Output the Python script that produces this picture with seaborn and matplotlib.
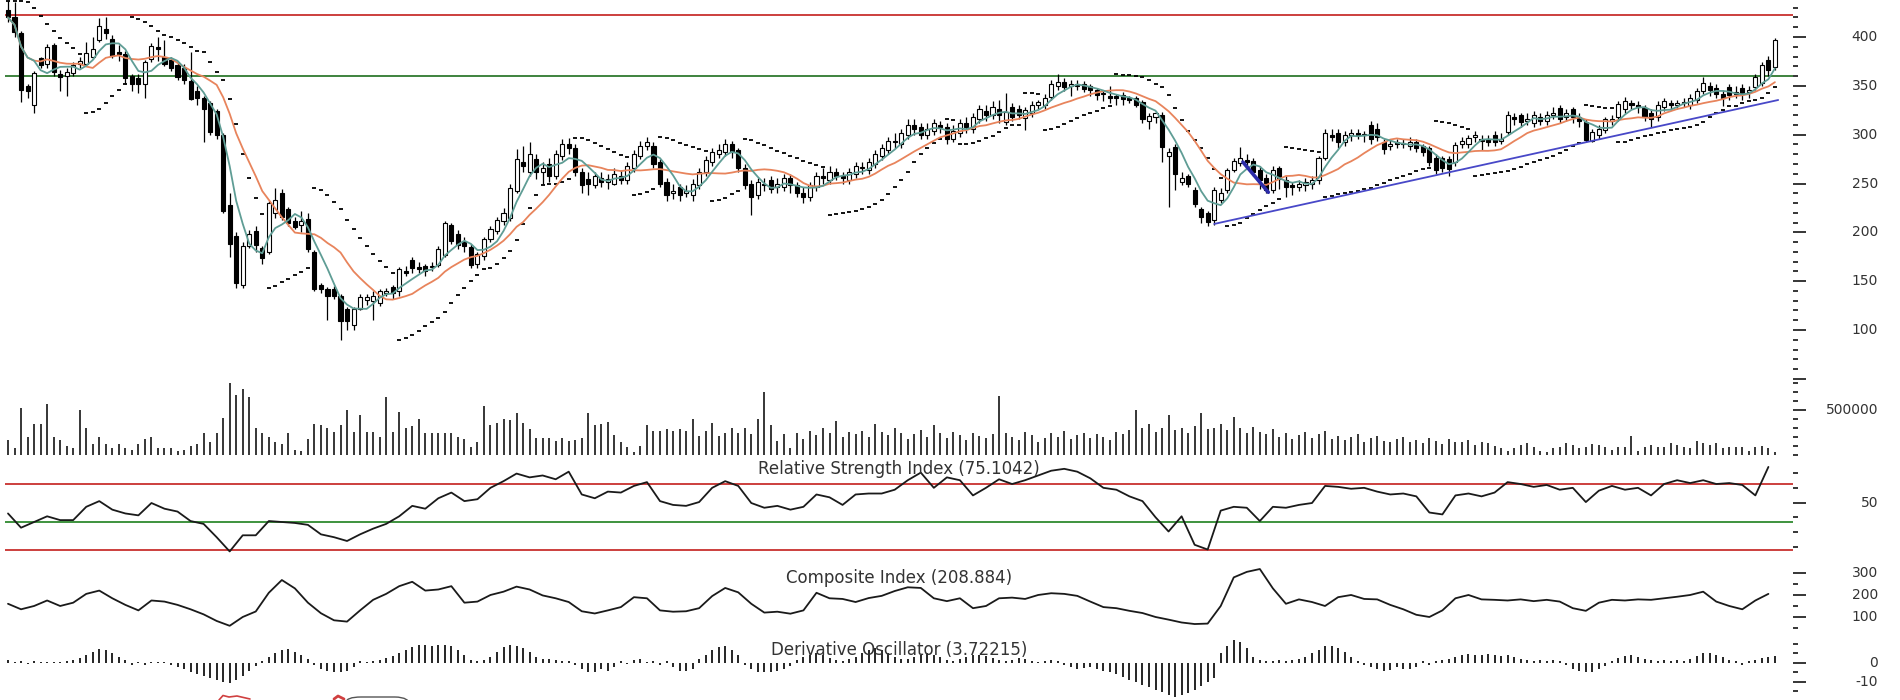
import numpy as np
import pandas as pd
import matplotlib
matplotlib.use("Agg")
import matplotlib.pyplot as plt
import matplotlib.transforms as mtrans
from matplotlib.lines import Line2D
from matplotlib.patches import FancyBboxPatch
import seaborn as sns

# ---------------------------------------------------------------- data
open_ = [
    428, 420, 404, 350, 330, 378, 372, 392, 362, 360,
    363, 372, 372, 380, 397, 408, 398, 385, 383, 360,
    358, 352, 377, 390, 380, 376, 371, 368, 355, 345,
    338, 332, 324, 300, 228, 196, 146, 186, 201, 184,
    180, 220, 240, 224, 212, 208, 214, 180, 146, 142,
    142, 135, 122, 105, 122, 131, 130, 128, 138, 144,
    140, 160, 172, 165, 166, 164, 167, 177, 207, 198,
    190, 185, 168, 176, 193, 201, 212,
    215, 242, 272,
    262, 275, 262, 270, 258, 278, 290, 286, 262, 255,
    248, 256, 252, 250, 258, 254, 266, 278, 288, 288,
    272, 252, 240, 246, 240, 238, 248, 262, 272, 280,
    282, 290, 284, 266, 250, 238, 250, 254, 246, 246,
    256, 248, 240, 236, 246, 258, 254, 262, 258, 254,
    260, 266, 264, 270, 278, 284, 294, 290, 300, 310,
    308, 300, 304, 310, 308, 296, 302, 312, 306, 316,
    324, 320, 326, 313, 328, 326, 317, 322, 330, 330,
    339, 350, 354, 350, 352, 352, 350, 346, 342, 340,
    340, 341, 338, 338, 333, 314, 318, 320, 278, 287,
    252, 258, 243, 224, 220, 213, 233, 243, 264, 271,
    274, 273, 264, 256, 243, 266, 254, 248, 246, 248,
    250, 254, 276, 300, 302, 292, 300, 302, 300, 310,
    306, 293, 288, 292, 290, 288, 292, 288, 286, 276,
    276, 275, 272, 290, 290, 298, 296, 296, 300, 294,
    303, 318, 320, 314, 312, 318, 314, 320, 327, 318,
    326, 318, 313, 294, 300, 305, 314, 318, 326, 332,
    330, 327, 322, 318, 328, 332, 330, 332, 330, 336,
    345, 350, 348, 342, 349, 342, 348, 344, 349, 353,
    376, 369]
high = [
    437, 436, 406, 352, 365, 380, 393, 394, 366, 368,
    374, 380, 395, 400, 419, 420, 402, 392, 386, 362,
    362, 376, 394, 400, 397, 380, 373, 372, 385, 350,
    340, 334, 326, 302, 240, 200, 190, 202, 206, 186,
    232, 245, 244, 226, 216, 222, 220, 182, 148, 144,
    145, 137, 124, 124, 137, 137, 140, 142, 143, 146,
    164, 166, 175, 170, 168, 170, 186, 212, 210, 202,
    195, 188, 180, 195, 206, 216, 225,
    250, 285, 288,
    292, 280, 272, 276, 284, 296, 297, 290, 266, 262,
    262, 262, 260, 266, 264, 272, 284, 294, 298, 292,
    275, 256, 250, 250, 248, 255, 266, 278, 286, 290,
    296, 294, 286, 270, 254, 256, 256, 258, 256, 260,
    260, 252, 246, 252, 262, 266, 268, 266, 262, 266,
    272, 272, 276, 284, 290, 298, 302, 306, 316, 316,
    312, 312, 316, 314, 312, 310, 316, 318, 322, 330,
    330, 334, 336, 343, 332, 330, 328, 334, 336, 342,
    356, 362, 358, 356, 356, 355, 352, 348, 346, 350,
    342, 344, 340, 340, 336, 322, 324, 323, 286, 290,
    262, 260, 246, 226, 222, 246, 245, 266, 276, 287,
    280, 276, 268, 260, 268, 268, 258, 252, 254, 256,
    258, 278, 306, 306, 306, 304, 306, 306, 304, 314,
    312, 296, 296, 296, 296, 298, 296, 290, 288, 280,
    278, 278, 292, 298, 300, 304, 300, 300, 304, 302,
    324, 322, 322, 322, 324, 322, 324, 328, 330, 326,
    328, 322, 316, 306, 310, 318, 320, 334, 339, 336,
    334, 330, 326, 334, 338, 336, 336, 338, 342, 348,
    359, 354, 352, 346, 352, 350, 352, 350, 362, 374,
    381, 399]
low = [
    415, 400, 333, 338, 322, 368, 368, 360, 345, 340,
    360, 368, 370, 377, 395, 398, 378, 375, 352, 345,
    343, 338, 374, 375, 370, 365, 356, 352, 335, 330,
    293, 300, 296, 220, 175, 143, 143, 184, 180, 168,
    178, 215, 213, 206, 203, 200, 180, 140, 138, 110,
    132, 90, 100, 100, 120, 126, 110, 125, 135, 132,
    135, 155, 158, 158, 155, 160, 164, 175, 188, 183,
    180, 163, 163, 172, 190, 198, 208,
    212, 240, 262,
    258, 255, 250, 252, 255, 274, 280, 258, 240, 238,
    245, 246, 244, 248, 250, 250, 262, 275, 284, 266,
    246, 232, 234, 232, 236, 232, 244, 258, 268, 276,
    278, 276, 262, 244, 218, 234, 242, 240, 240, 242,
    240, 236, 230, 232, 242, 250, 250, 254, 250, 250,
    256, 260, 260, 266, 274, 280, 286, 286, 296, 300,
    296, 296, 300, 302, 290, 292, 298, 302, 302, 312,
    314, 316, 312, 310, 314, 316, 305, 318, 326, 326,
    336, 346, 345, 340, 346, 344, 340, 336, 334, 332,
    330, 330, 332, 328, 312, 306, 312, 272, 226, 243,
    248, 246, 226, 210, 206, 208, 230, 240, 262, 268,
    266, 258, 244, 240, 240, 244, 236, 238, 242, 242,
    244, 250, 274, 294, 286, 288, 294, 296, 292, 290,
    294, 280, 284, 286, 286, 284, 282, 278, 268, 260,
    262, 258, 268, 286, 286, 292, 284, 288, 288, 290,
    300, 310, 308, 310, 308, 310, 310, 316, 312, 314,
    312, 308, 292, 292, 296, 302, 310, 314, 322, 326,
    322, 314, 308, 314, 324, 326, 326, 328, 326, 332,
    342, 340, 338, 329, 336, 338, 336, 338, 346, 350,
    360, 366]
close = [
    420, 405, 346, 345, 363, 371, 390, 364, 359, 364,
    371, 375, 384, 388, 411, 404, 381, 383, 358, 352,
    352, 374, 391, 388, 372, 368, 359, 356, 337, 338,
    326, 303, 300, 222, 188, 148, 186, 198, 187, 174,
    230, 233, 216, 210, 205, 212, 183, 142, 142, 135,
    135, 109, 109, 122, 134, 134, 135, 140, 140, 138,
    162, 158, 163, 162, 160, 166, 183, 210, 191, 187,
    186, 167, 178, 193, 203, 213, 220,
    245, 275, 268,
    280, 262, 266, 258, 280, 290, 286, 262, 248, 250,
    258, 252, 255, 260, 254, 268, 280, 288, 292, 270,
    250, 238, 242, 238, 242, 250, 262, 274, 282, 284,
    290, 282, 266, 248, 236, 252, 248, 244, 250, 256,
    248, 240, 236, 248, 258, 256, 262, 258, 256, 262,
    268, 266, 272, 280, 286, 294, 292, 302, 310, 306,
    300, 306, 312, 308, 296, 304, 312, 308, 318, 326,
    320, 328, 320, 323, 318, 320, 325, 330, 333, 338,
    352, 354, 349, 352, 350, 347, 346, 341, 342, 338,
    338, 337, 336, 330, 316, 319, 322, 287, 282, 260,
    256, 250, 229, 216, 211, 243, 240, 264, 273, 276,
    272, 262, 254, 243, 264, 255, 246, 246, 250, 252,
    254, 276, 302, 298, 292, 300, 302, 300, 301, 296,
    298, 285, 290, 290, 291, 293, 286, 282, 272, 264,
    266, 265, 289, 294, 297, 300, 294, 292, 292, 296,
    320, 316, 313, 316, 320, 314, 320, 322, 316, 322,
    318, 314, 295, 303, 306, 316, 316, 331, 334, 330,
    328, 318, 316, 330, 334, 330, 332, 333, 338, 345,
    353, 346, 342, 338, 341, 344, 342, 346, 359, 371,
    366, 397]

# volume in thousands of shares
volume_k = [
    170, 80, 520, 205, 340, 340, 570, 205, 170, 100,
    80, 500, 300, 125, 205, 125, 80, 125, 80, 60,
    125, 180, 205, 80, 80, 80, 40, 60, 100, 125,
    250, 150, 250, 410, 800, 670, 730, 650, 300, 250,
    205, 150, 125, 250, 60, 40, 180, 350, 330, 300,
    260, 330, 500, 260, 440, 260, 260, 200, 650, 260,
    480, 300, 320, 400, 240, 250, 250, 250, 240, 200,
    180, 90, 150, 550, 330, 360, 400, 390, 470, 360,
    290, 190, 190, 190, 160, 190, 160, 170, 190, 470,
    330, 340, 370, 220, 140, 85, 30, 100, 330, 270,
    270, 290, 270, 290, 270, 400, 210, 270, 360, 210,
    250, 300, 250, 300, 230, 400, 700, 330, 160, 230,
    80, 250, 180, 270, 220, 300, 240, 380, 200, 260,
    230, 270, 200, 340, 260, 220, 300, 250, 180, 230,
    280, 200, 330, 240, 190, 260, 220, 170, 250, 210,
    190, 230, 660, 240, 200, 170, 260, 220, 150, 190,
    240, 200, 270, 180, 220, 250, 190, 230, 200, 170,
    260, 230, 280, 500, 300, 340, 260, 300, 440, 280,
    300, 250, 320, 470, 290, 300, 340, 280, 420, 300,
    250, 310, 260, 230, 290, 200, 250, 180, 220, 260,
    190, 230, 270, 180, 210, 170, 200, 230, 150, 190,
    210, 160, 140, 180, 200, 150, 170, 130, 190, 160,
    120, 180, 150, 140, 170, 110, 150, 130, 100, 74,
    48, 74, 111, 130, 93, 48, 37, 74, 93, 130,
    111, 74, 93, 122, 111, 93, 59, 93, 93, 211,
    48, 93, 111, 93, 93, 130, 111, 93, 74, 159,
    137, 111, 130, 74, 93, 93, 93, 48, 93, 100,
    74, 37]

# RSI read every second session
rsi_vals = [
    39, 24, 30, 36, 32, 32, 46, 52, 43, 39,
    37, 50, 44, 41, 31, 28, 14, -1, 16, 16,
    31, 30, 29, 27, 17, 14, 10, 17, 23, 28,
    36, 47, 44, 55, 61, 52, 54, 66, 73, 81,
    77, 79, 75, 83, 59, 55, 62, 61, 68, 72,
    52, 48, 47, 51, 66, 73, 68, 50, 45, 47,
    43, 46, 59, 56, 48, 59, 60, 60, 64, 74,
    82, 66, 77, 74, 58, 66, 75, 70, 74, 79,
    84, 86, 83, 76, 66, 64, 57, 52, 35, 20,
    36, 6, 1, 42, 46, 45, 31, 46, 45, 48,
    50, 68, 67, 65, 66, 62, 59, 60, 57, 40,
    38, 58, 60, 57, 61, 72, 70, 67, 69, 64,
    66, 51, 63, 68, 64, 66, 58, 70, 74, 71,
    74, 70, 71, 69, 58, 88]

# Composite index read every second session
composite_vals = [
    160, 135, 150, 175, 150, 165, 205, 220, 185, 155,
    130, 175, 170, 155, 135, 112, 82, 60, 100, 125,
    210, 268, 230, 165, 117, 85, 79, 130, 178, 205,
    240, 260, 220, 225, 240, 165, 170, 200, 215, 238,
    225, 198, 185, 168, 126, 116, 130, 145, 190, 185,
    130, 124, 126, 140, 195, 232, 212, 160, 120, 124,
    115, 130, 210, 185, 182, 168, 186, 196, 218, 235,
    232, 185, 172, 185, 140, 150, 185, 188, 182, 200,
    208, 205, 196, 170, 145, 140, 128, 118, 100, 88,
    75, 68, 70, 150, 280, 305, 318, 230, 160, 180,
    168, 150, 190, 200, 182, 180, 155, 135, 110, 100,
    130, 185, 200, 180, 178, 175, 180, 172, 178, 170,
    140, 128, 165, 178, 175, 180, 178, 185, 192, 200,
    215, 170, 150, 135, 175, 205]

deriv_vals = [
    1.5, 0.5, 1, -0.5, 1, 0.5, 0.5, 0.3, 0.5, 1,
    1.5, 2.5, 4, 6, 7.5, 7, 5, 3, 1.5, -1,
    0.5, -1, 0.5, 0.5, 0.3, -1, -2, -3, -5, -6,
    -7, -8, -9, -10, -10.5, -9, -7, -4, -1.5, 1,
    3, 5, 7, 7.5, 6, 4, 2, -1, -3, -4,
    -5, -5, -4, -2, 1, 0.5, 1, 1.5, 2.5, 3.5,
    5, 7, 8.5, 9.5, 9.5, 9, 9.5, 9.6, 9, 7,
    4, 1.5, 1, 1.5, 3, 6, 8.5, 9.6, 9, 8,
    6, 3, 2, 2, 1.5, 1, 1, -1, -3, -4.5,
    -4.5, -3, -4, -2, 1, -0.5, 1.5, 2, 0.5, 1,
    -1, 1, -2, -4, -4, -3, 2, 4, 7, 8.5,
    9, 7, 4, -1, -3, -5, -5, -4.5, -4, -3,
    -1.5, 1.5, 3, 4, 5, 4, 2.5, 1.5, 1, 2,
    3, 5, 7, 8, 7, 5, 3, 2, 2, 3,
    4, 5, 4, 3, 1.5, 1, 2, 3, 4, 4,
    3.5, 2.5, 1.5, 1, 1.5, 2.5, 2, 1, 0.5, 1,
    1.5, 1, -1, -2, -3, -2.5, -2, -3, -4, -5,
    -6, -7.5, -9, -10, -11.5, -12.5, -14, -15.5, -17, -18,
    -17, -16, -14, -12, -10, -8, 5, 9, 12, 11,
    8, 3, 1.5, 1, 1, 1.5, 1, 1.5, 2, 3,
    5, 7, 9, 9, 8, 6, 3, 1, -1, -2,
    -3, -4, -3.5, -2, -3, -3, -2, 1, -1, 1,
    1.5, 2, 3, 4, 4.5, 4, 4, 4.5, 4, 3.5,
    4, 3, 2, 1.5, 1, 1.5, 1, 1.5, 1, -1,
    -3, -4, -5, -4.5, -3, -1.5, 1, 2.5, 3.5, 4,
    3, 2, 1.5, 1, 1.5, 1, 1.5, 1, 2, 3.5,
    5, 5, 4, 3, 1.5, 1, -1, 1, 1.5, 2.5,
    3, 3.7]

resistance_level = 422.5
support_level = 360
trend_idx = [185, 271.5]
trend_price = [208.6, 335.5]
seg_idx = [189.4, 193.3]
seg_price = [272, 241]

price_ticks = [100, 150, 200, 250, 300, 350, 400]
rsi_title = "Relative Strength Index (75.1042)"
comp_title = "Composite Index (208.884)"
deriv_title = "Derivative Oscillator (3.72215)"

# ---------------------------------------------------------------- style
sns.set_theme(style="white")
plt.rcParams["font.family"] = ["DejaVu Sans"]

W, H = 1900, 700
fig = plt.figure(figsize=(19, 7), dpi=100)
fig.patch.set_facecolor("white")

LEFT_PX, RIGHT_PX = 5, 1793
X0_PX, DX_PX = 8.0, 6.52
XL = ((LEFT_PX - X0_PX) / DX_PX, (RIGHT_PX - X0_PX) / DX_PX)
LABEL_X = (1878 - LEFT_PX) / (RIGHT_PX - LEFT_PX)


def add_ax(top_px, bottom_px):
    ax = fig.add_axes([LEFT_PX / W, 1 - bottom_px / H,
                       (RIGHT_PX - LEFT_PX) / W, (bottom_px - top_px) / H])
    ax.set_facecolor("none")
    return ax


def style_axis(ax, ylim, major, minor, labels):
    ax.set_xlim(*XL)
    ax.set_ylim(*ylim)
    for s in ax.spines.values():
        s.set_visible(False)
    ax.set_xticks([])
    ax.yaxis.tick_right()
    ax.set_yticks(major)
    ax.set_yticks(minor, minor=True)
    ax.tick_params(axis="y", which="major", direction="out", length=9.5,
                   width=1.1, color="black", labelright=False, labelleft=False,
                   right=True, left=False)
    ax.tick_params(axis="y", which="minor", direction="out", length=3.8,
                   width=1.1, color="black", right=True, left=False)
    ax.set_xlabel("")
    ax.set_ylabel("")
    tr = mtrans.blended_transform_factory(ax.transAxes, ax.transData)
    for v, t in labels:
        ax.text(LABEL_X, v, t, transform=tr, ha="right", va="center",
                fontsize=10, color="#333333")


idx = np.arange(len(close))
o = np.array(open_, float)
h = np.array(high, float)
l = np.array(low, float)
c = np.array(close, float)

# ---------------------------------------------------------------- price panel
ax_p = add_ax(0, 380)
ax_p.axhline(resistance_level, color="#c8302e", lw=1.3, zorder=2)
ax_p.axhline(support_level, color="#2f7a2f", lw=1.3, zorder=2)

# moving averages derived from the closes
ma_fast = pd.Series(c).rolling(5, min_periods=1).mean().to_numpy()
ma_slow = pd.Series(c).rolling(12, min_periods=1).mean().to_numpy()


# parabolic SAR derived from highs / lows
def parabolic_sar(hi, lo, af0=0.02, step=0.02, afmax=0.2):
    n = len(hi)
    sar = np.zeros(n)
    bull = False
    ep = lo[0]
    af = af0
    sar[0] = hi[0]
    for i in range(1, n):
        prev = sar[i - 1]
        s = prev + af * (ep - prev)
        if bull:
            s = min(s, lo[i - 1], lo[max(i - 2, 0)])
            if lo[i] < s:
                bull = False
                s = ep
                ep = lo[i]
                af = af0
            elif hi[i] > ep:
                ep = hi[i]
                af = min(af + step, afmax)
        else:
            s = max(s, hi[i - 1], hi[max(i - 2, 0)])
            if hi[i] > s:
                bull = True
                s = ep
                ep = hi[i]
                af = af0
            elif lo[i] < ep:
                ep = lo[i]
                af = min(af + step, afmax)
        sar[i] = s
    return sar


sar = parabolic_sar(h, l)
ax_p.plot(idx, sar, linestyle="none", marker="_", markersize=3.2,
          mew=1.3, color="black", zorder=3)

ax_p.vlines(idx, l, h, color="black", lw=0.9, zorder=3)
up = c >= o
body_bot = np.minimum(o, c)
body_h = np.maximum(np.abs(c - o), 0.9)
ax_p.bar(idx[up], body_h[up], bottom=body_bot[up], width=0.62,
         color="white", edgecolor="black", linewidth=0.8, zorder=4)
ax_p.bar(idx[~up], body_h[~up], bottom=body_bot[~up], width=0.62,
         color="black", edgecolor="black", linewidth=0.8, zorder=4)

sns.lineplot(x=idx, y=ma_slow, ax=ax_p, color="#e8845c", linewidth=1.3, zorder=5)
sns.lineplot(x=idx, y=ma_fast, ax=ax_p, color="#5f9d95", linewidth=1.3, zorder=6)

ax_p.plot(trend_idx, trend_price, color="#4848c8", lw=1.3, zorder=6)
ax_p.plot(seg_idx, seg_price, color="#2c2ca8", lw=2.6, zorder=6)

style_axis(ax_p, (48.8, 437.9), [50] + price_ticks, list(range(50, 440, 10)),
           [(v, str(v)) for v in price_ticks])

# ---------------------------------------------------------------- volume panel
ax_v = add_ax(378, 455)
ax_v.vlines(idx[:len(volume_k)], 0, volume_k, color="black", lw=1.1)
style_axis(ax_v, (0, 855.6), [500], list(range(0, 900, 100)),
           [(500, "500000")])

# ---------------------------------------------------------------- RSI panel
ax_r = add_ax(458, 556)
ax_r.axhline(70, color="#c8302e", lw=1.3, zorder=1)
ax_r.axhline(30, color="#2f8a2f", lw=1.3, zorder=1)
ax_r.axhline(0, color="#c8302e", lw=1.3, zorder=1)
rsi_x = np.arange(len(rsi_vals)) * 2
sns.lineplot(x=rsi_x, y=rsi_vals, ax=ax_r, color="#1a1a1a", linewidth=1.3)
style_axis(ax_r, (-5.8, 97.4), [50], [3.5, 19, 35, 66, 82], [(50, "50")])

# ---------------------------------------------------------------- composite
ax_c = add_ax(560, 636)
comp_x = np.arange(len(composite_vals)) * 2
sns.lineplot(x=comp_x, y=composite_vals, ax=ax_c, color="#1a1a1a", linewidth=1.3)
style_axis(ax_c, (13.6, 359), [100, 200, 300], [50, 150, 250],
           [(100, "100"), (200, "200"), (300, "300")])

# ---------------------------------------------------------------- derivative
ax_d = add_ax(636, 700)
ax_d.vlines(idx[:len(deriv_vals)], 0, deriv_vals, color="black", lw=1.2)
style_axis(ax_d, (-19.5, 14.2), [0, -10], [10, 5, -5, -15],
           [(0, "0"), (-10, "-10")])

# ---------------------------------------------------------------- titles
cx = ((LEFT_PX + RIGHT_PX) / 2) / W
for title, ypx in [(rsi_title, 469), (comp_title, 578), (deriv_title, 650)]:
    fig.text(cx, 1 - ypx / H, title, ha="center", va="center",
             fontsize=12, color="#333333", zorder=10)

# ---------------------------------------------------------------- cut-off panel hint at bottom edge
def px_line(xs, ys, **kw):
    fig.add_artist(Line2D([x / W for x in xs], [1 - y / H for y in ys],
                          transform=fig.transFigure, **kw))


px_line([219, 223, 229, 237, 250], [700, 695.5, 697, 696, 699],
        color="#d04040", lw=1.2)
px_line([334, 338, 344], [699, 696, 699], color="#d04040", lw=2.0)
fig.add_artist(FancyBboxPatch((346 / W, 1 - 712 / H), 64 / W, 15 / H,
                              boxstyle="round,pad=0,rounding_size=0.008",
                              transform=fig.transFigure, fill=False,
                              edgecolor="#555555", lw=1.0))

fig.savefig("out.png", dpi=100)
